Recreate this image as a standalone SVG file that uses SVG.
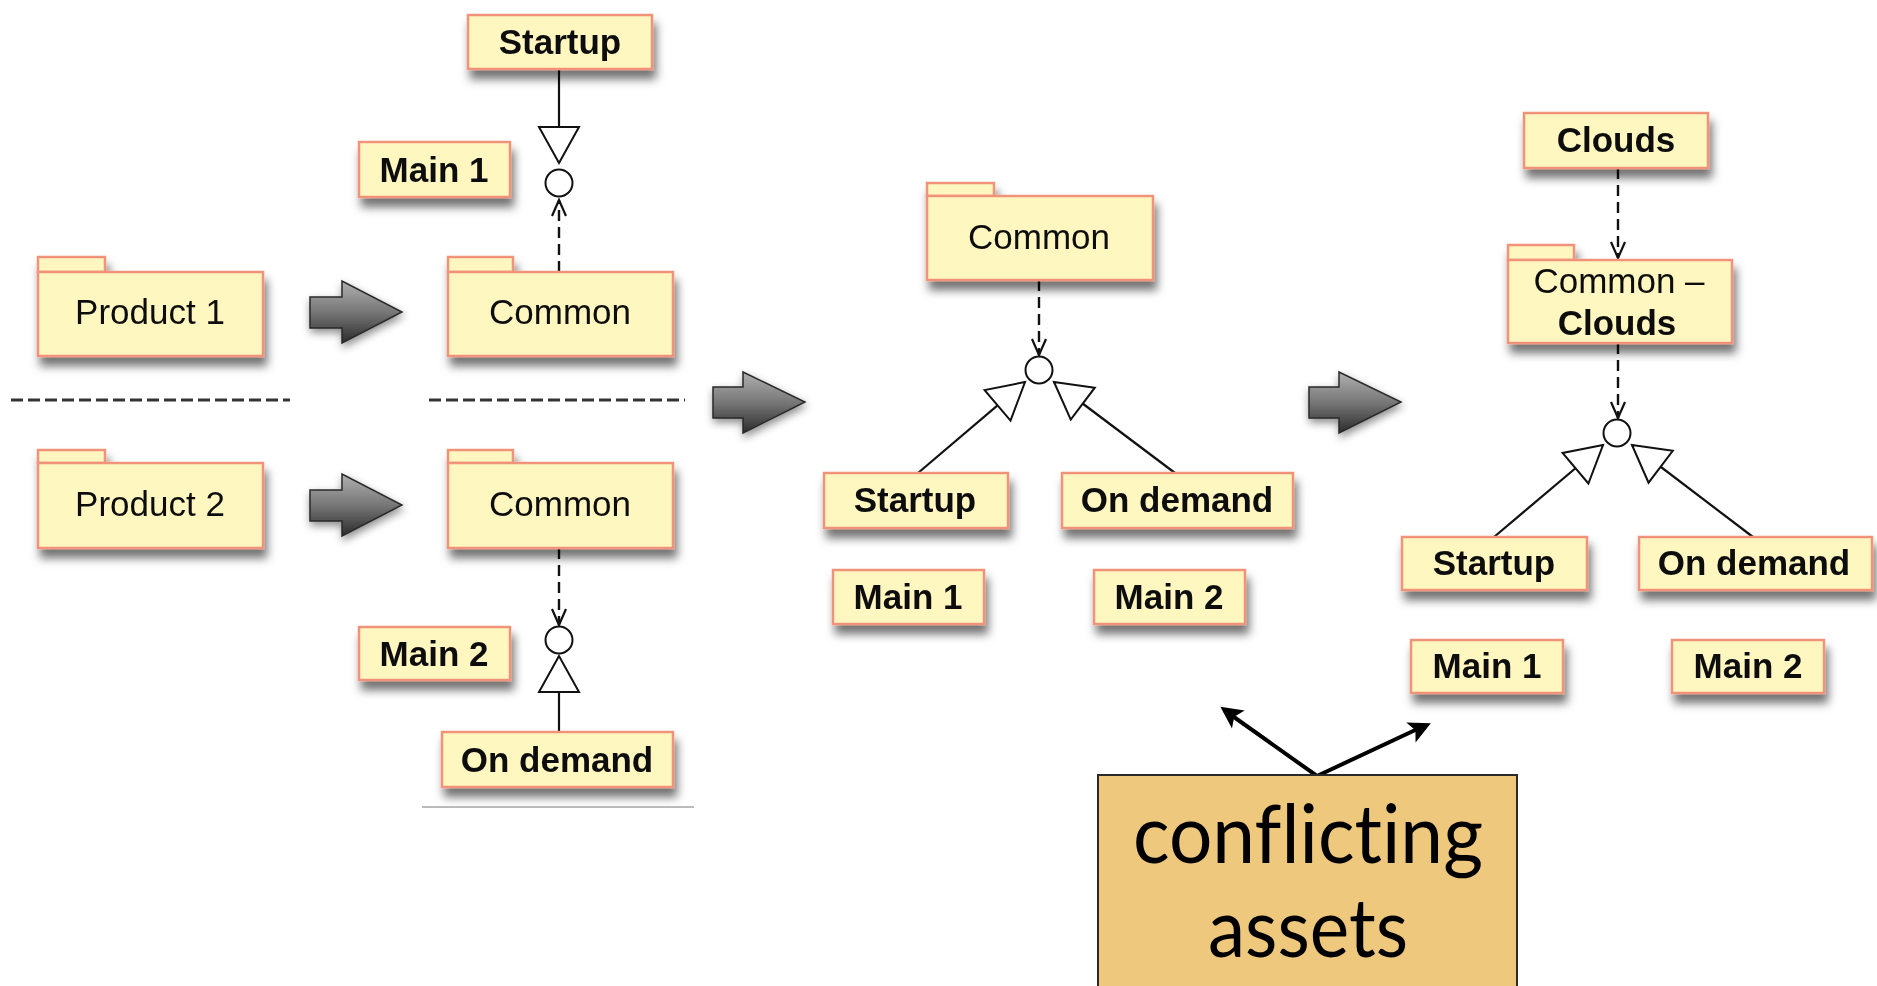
<svg xmlns="http://www.w3.org/2000/svg" width="1877" height="986" viewBox="0 0 1877 986">
<defs>
  <filter id="sh" x="-20%" y="-30%" width="150%" height="190%">
    <feDropShadow dx="3" dy="9" stdDeviation="5" flood-color="#000" flood-opacity="0.55"/>
  </filter>
  <filter id="sh2" x="-30%" y="-40%" width="160%" height="200%">
    <feDropShadow dx="1" dy="4" stdDeviation="4" flood-color="#000" flood-opacity="0.45"/>
  </filter>
  <linearGradient id="fat" x1="0" y1="0" x2="0" y2="1">
    <stop offset="0" stop-color="#b0b0b0"/>
    <stop offset="0.5" stop-color="#777"/>
    <stop offset="1" stop-color="#2c2c2c"/>
  </linearGradient>
  <marker id="gen" markerUnits="userSpaceOnUse" markerWidth="44" markerHeight="48" viewBox="-40 -22 44 44" refX="0" refY="0" orient="auto" overflow="visible">
    <path d="M0,0 L-36,-20 L-36,20 Z" fill="#fff" stroke="#111" stroke-width="2" stroke-linejoin="miter"/>
  </marker>
  <marker id="open" markerUnits="userSpaceOnUse" markerWidth="20" markerHeight="20" viewBox="-18 -10 20 20" refX="0" refY="0" orient="auto" overflow="visible">
    <path d="M-16,-7 L0,0 L-16,7" fill="none" stroke="#111" stroke-width="2.2"/>
  </marker>
  <marker id="solid" markerUnits="userSpaceOnUse" markerWidth="30" markerHeight="30" viewBox="-26 -14 30 28" refX="0" refY="0" orient="auto" overflow="visible">
    <path d="M2,0 L-20,-11 L-15,0 L-20,11 Z" fill="#000"/>
  </marker>
</defs>
<style>
  .box { fill: #FFF6C0; stroke: #F0937A; stroke-width: 2.5; }
  .b { font-family: "Liberation Sans", Arial, sans-serif; font-weight: bold; font-size: 35px; fill: #111; text-anchor: middle; }
  .r { font-family: "Liberation Sans", Arial, sans-serif; font-size: 35px; fill: #111; text-anchor: middle; }
  .dash { stroke: #111; stroke-width: 2.4; stroke-dasharray: 11 6; fill: none; }
  .solidl { stroke: #111; stroke-width: 2.2; fill: none; }
  .circ { fill: #fff; stroke: #111; stroke-width: 2; }
  .fat { fill: url(#fat); stroke: #2a2a2a; stroke-width: 1.5; filter: url(#sh2); }
  .sep { stroke: #333; stroke-width: 3; stroke-dasharray: 12 5; }
  .big { font-family: Lato, "Open Sans", sans-serif; font-size: 82px; fill: #000; text-anchor: middle; font-variant-ligatures: none; }
</style>

<!-- separators -->
<g id="separators">
  <line class="sep" x1="11" y1="400" x2="290" y2="400"/>
  <line class="sep" x1="429" y1="400" x2="685" y2="400"/>
  <line x1="422" y1="807" x2="694" y2="807" stroke="#bbb" stroke-width="2"/>
</g>

<!-- transformation arrows -->
<g id="fat-arrows">
  <path class="fat" d="M310,297 L342,297 L342,281 L402,312 L342,343 L342,328 L310,328 Z"/>
  <path class="fat" d="M310,490 L342,490 L342,474 L402,505 L342,536 L342,521 L310,521 Z"/>
  <path class="fat" d="M713,387 L743,387 L743,372 L805,402 L743,433 L743,418 L713,418 Z"/>
  <path class="fat" d="M1309,387 L1339,387 L1339,372 L1401,402 L1339,433 L1339,418 L1309,418 Z"/>
</g>

<!-- connectors -->
<g id="connectors">
  <!-- left upper -->
  <line class="solidl" x1="559" y1="69" x2="559" y2="163" marker-end="url(#gen)"/>
  <line class="dash" x1="559" y1="272" x2="559" y2="200" marker-end="url(#open)"/>
  <circle class="circ" cx="559" cy="183" r="13.5"/>
  <!-- left lower -->
  <line class="dash" x1="559" y1="548" x2="559" y2="625" marker-end="url(#open)"/>
  <circle class="circ" cx="559" cy="640" r="13.5"/>
  <line class="solidl" x1="559" y1="732" x2="559" y2="656" marker-end="url(#gen)"/>
  <!-- middle -->
  <line class="dash" x1="1039" y1="280" x2="1039" y2="355" marker-end="url(#open)"/>
  <circle class="circ" cx="1039" cy="370" r="13.5"/>
  <line class="solidl" x1="918" y1="473" x2="1025" y2="382" marker-end="url(#gen)"/>
  <line class="solidl" x1="1175" y1="473" x2="1054" y2="382" marker-end="url(#gen)"/>
  <!-- right -->
  <line class="dash" x1="1618" y1="168" x2="1618" y2="258" marker-end="url(#open)"/>
  <line class="dash" x1="1618" y1="343" x2="1618" y2="418" marker-end="url(#open)"/>
  <circle class="circ" cx="1617" cy="433" r="13.5"/>
  <line class="solidl" x1="1494" y1="537" x2="1603" y2="445" marker-end="url(#gen)"/>
  <line class="solidl" x1="1753" y1="537" x2="1632" y2="445" marker-end="url(#gen)"/>
  <!-- conflicting assets pointers -->
  <polyline points="1224,710 1317,776 1426,725" fill="none" stroke="#000" stroke-width="4" stroke-linejoin="miter"/>
  <line x1="1270" y1="742" x2="1222" y2="708" stroke="none" marker-end="url(#solid)"/>
  <line x1="1380" y1="747" x2="1429" y2="724" stroke="none" marker-end="url(#solid)"/>
</g>

<!-- nodes: left -->
<g id="startup-1" filter="url(#sh)">
  <rect class="box" x="468" y="15" width="184" height="54"/>
  <text class="b" x="560" y="54">Startup</text>
</g>
<g id="main1-a" filter="url(#sh)">
  <rect class="box" x="359" y="142" width="151" height="55"/>
  <text class="b" x="434" y="182">Main 1</text>
</g>
<g id="product-1" filter="url(#sh)">
  <rect class="box" x="38" y="257" width="67" height="15"/>
  <rect class="box" x="38" y="272" width="225" height="84"/>
  <text class="r" x="150" y="324">Product 1</text>
</g>
<g id="common-1" filter="url(#sh)">
  <rect class="box" x="448" y="257" width="65" height="15"/>
  <rect class="box" x="448" y="272" width="225" height="84"/>
  <text class="r" x="560" y="324">Common</text>
</g>
<g id="product-2" filter="url(#sh)">
  <rect class="box" x="38" y="450" width="67" height="13"/>
  <rect class="box" x="38" y="463" width="225" height="85"/>
  <text class="r" x="150" y="516">Product 2</text>
</g>
<g id="common-2" filter="url(#sh)">
  <rect class="box" x="448" y="450" width="65" height="13"/>
  <rect class="box" x="448" y="463" width="225" height="85"/>
  <text class="r" x="560" y="516">Common</text>
</g>
<g id="main2-a" filter="url(#sh)">
  <rect class="box" x="359" y="627" width="151" height="53"/>
  <text class="b" x="434" y="666">Main 2</text>
</g>
<g id="ondemand-1" filter="url(#sh)">
  <rect class="box" x="442" y="732" width="231" height="55"/>
  <text class="b" x="557" y="772">On demand</text>
</g>

<!-- nodes: middle -->
<g id="common-3" filter="url(#sh)">
  <rect class="box" x="927" y="183" width="67" height="13"/>
  <rect class="box" x="927" y="196" width="226" height="84"/>
  <text class="r" x="1039" y="249">Common</text>
</g>
<g id="startup-2" filter="url(#sh)">
  <rect class="box" x="824" y="473" width="184" height="55"/>
  <text class="b" x="915" y="512">Startup</text>
</g>
<g id="ondemand-2" filter="url(#sh)">
  <rect class="box" x="1062" y="473" width="231" height="55"/>
  <text class="b" x="1177" y="512">On demand</text>
</g>
<g id="main1-b" filter="url(#sh)">
  <rect class="box" x="833" y="570" width="151" height="54"/>
  <text class="b" x="908" y="609">Main 1</text>
</g>
<g id="main2-b" filter="url(#sh)">
  <rect class="box" x="1094" y="570" width="151" height="54"/>
  <text class="b" x="1169" y="609">Main 2</text>
</g>

<!-- nodes: right -->
<g id="clouds" filter="url(#sh)">
  <rect class="box" x="1524" y="113" width="184" height="55"/>
  <text class="b" x="1616" y="152">Clouds</text>
</g>
<g id="common-clouds" filter="url(#sh)">
  <rect class="box" x="1508" y="245" width="66" height="15"/>
  <rect class="box" x="1508" y="260" width="224" height="83"/>
  <text class="r" x="1619" y="293">Common –</text>
  <text class="b" x="1617" y="335">Clouds</text>
</g>
<g id="startup-3" filter="url(#sh)">
  <rect class="box" x="1402" y="537" width="185" height="53"/>
  <text class="b" x="1494" y="575">Startup</text>
</g>
<g id="ondemand-3" filter="url(#sh)">
  <rect class="box" x="1639" y="537" width="233" height="53"/>
  <text class="b" x="1754" y="575">On demand</text>
</g>
<g id="main1-c" filter="url(#sh)">
  <rect class="box" x="1411" y="640" width="152" height="53"/>
  <text class="b" x="1487" y="678">Main 1</text>
</g>
<g id="main2-c" filter="url(#sh)">
  <rect class="box" x="1672" y="640" width="152" height="53"/>
  <text class="b" x="1748" y="678">Main 2</text>
</g>

<!-- callout -->
<g id="conflicting-assets">
  <rect x="1098" y="775" width="419" height="230" fill="#EEC87C" stroke="#2a2a2a" stroke-width="2"/>
  <text class="big" x="1308" y="863" textLength="350" lengthAdjust="spacingAndGlyphs">conflicting</text>
  <text class="big" x="1308" y="957" textLength="200" lengthAdjust="spacingAndGlyphs">assets</text>
</g>
</svg>
